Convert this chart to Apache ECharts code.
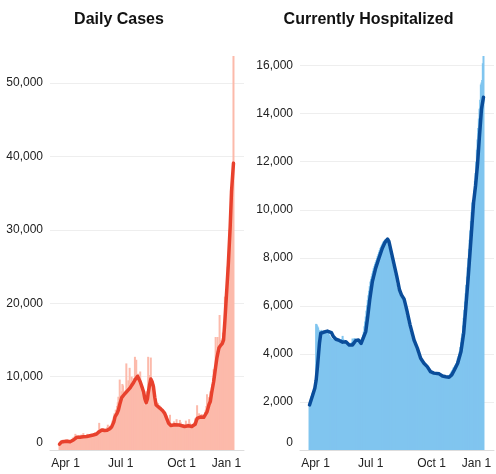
<!DOCTYPE html>
<html><head><meta charset="utf-8">
<script src="https://cdn.jsdelivr.net/npm/echarts@6/dist/echarts.min.js"></script>
<style>html,body{margin:0;padding:0;background:#fff}#c{width:496px;height:474px}</style>
</head><body><div id="c"></div>
<script>
// first data day: 2020-03-29, one value per day
const startDate = '2020-03-29';

const caseDaily = [
 800, 900, 1100, 1200, 1300, 1400, 1200, 1300, 1100, 1400,
 1200, 1000, 1500, 1300, 1100, 1400, 1200, 900, 1300, 1500,
 1700, 1400, 1300, 1900, 2200, 1600, 1800, 1500, 1400, 2000,
 1800, 1700, 1900, 2100, 1600, 1500, 2300, 1800, 1700, 2000,
 1900, 1600, 2200, 1800, 1900, 2100, 1700, 1800, 2200, 2000,
 1900, 2300, 2100, 1800, 2400, 2200, 2000, 2500, 2300, 2700,
 3700, 2600, 2400, 2900, 2800, 2500, 3000, 2700, 2600, 2900,
 2800, 2500, 3100, 3450, 2900, 2700, 3300, 3200, 3000, 3500,
 4000, 3800, 4500, 5000, 4800, 5500, 5200, 6000, 6500, 7260,
 6800, 9600, 6000, 7500, 8000, 9000, 8800, 7200, 7000, 7800,
 8200, 11800, 7600, 8000, 9500, 8500, 11200, 9200, 8400, 10000,
 9000, 8600, 9800, 9200, 12700, 10500, 12300, 9000, 9600, 10400,
 9200, 8800, 10700, 8400, 7800, 7000, 7600, 6800, 5450, 6200,
 6000, 7200, 8000, 7600, 12700, 9000, 10200, 9400, 12600, 9000,
 8800, 8200, 9000, 7000, 6800, 6400, 6000, 6500, 6200, 6400,
 5800, 6100, 5600, 5900, 5400, 5200, 5600, 5000, 4900, 5200,
 4600, 4300, 4700, 4200, 3800, 3600, 4000, 4800, 3400, 3200,
 3100, 3500, 3300, 3900, 3700, 3200, 3000, 4200, 3600, 3400,
 3300, 3100, 4100, 3800, 3200, 3000, 3400, 3500, 3100, 2900,
 3200, 4000, 3000, 2800, 3600, 3300, 4200, 3700, 3400, 3100,
 3000, 2900, 3100, 3400, 3800, 4300, 4100, 4200, 6100, 4400,
 4300, 5000, 4600, 4800, 4500, 4900, 4200, 4100, 4700, 4600,
 5200, 5500, 6000, 7600, 6400, 6800, 7200, 7000, 8000, 7400,
 8500, 9000, 9800, 11000, 10500, 11200, 15400, 12300, 13500, 15400,
 13500, 14000, 18400, 15000, 14000, 14600, 15200, 16000, 15500, 16200,
 20900, 19500, 20800, 21000, 25000, 24200, 25000, 30000, 30500, 30200,
 35500, 35800, 35400, 53700
];

// 7-day average, read at these day offsets from startDate
const caseAvgDay = [0,3,6,10,16,21,26,31,36,41,46,51,56,60,64,68,72,76,79,82,84,87,89,91,94,96,99,102,104,107,109,112,114,116,118,120,122,125,127,129,131,133,134,136,138,140,142,144,146,149,152,156,159,162,165,168,170,174,177,181,185,189,192,195,197,200,202,205,208,210,213,216,218,220,223,226,228,230,233,236,238,241,243,246,248,250,252,255,258,260,263];
const caseAvg = [800,1100,1270,1200,1130,1360,1730,1750,1820,1850,1950,2050,2180,2500,2720,2650,2700,2900,3180,3800,4540,5000,5450,6200,7150,7400,7700,8000,8200,8500,8800,9200,9540,9800,10050,9800,9300,8500,7950,7000,6450,7000,7720,8800,9680,9300,8630,7200,6130,5900,5680,5350,5000,4300,3640,3350,3310,3450,3540,3400,3310,3200,3090,3300,3500,3200,3050,3500,4300,4450,4500,4400,4450,4700,5200,6200,6600,7800,9300,11300,12600,13900,14200,14500,15000,17600,20600,25000,30400,35200,39100];

const hospDaily = [
 1800, 2050, 2150, 2250, 2350, 2400, 2450, 2500, 2550, 2650,
 5250, 5220, 5150, 5100, 5000, 4950, 4900, 4950, 5000, 4950,
 4900, 4880, 4920, 4960, 4900, 4950, 4980, 4920, 4880, 4820,
 4780, 4720, 4680, 4650, 4620, 4600, 4580, 4610, 4560, 4530,
 4560, 4510, 4580, 4530, 4490, 4510, 4460, 4520, 4560, 4620,
 4750, 4620, 4520, 4460, 4420, 4430, 4390, 4360, 4400, 4380,
 4350, 4370, 4400, 4440, 4500, 4640, 4620, 4600, 4660, 4620,
 4590, 4570, 4540, 4500, 4450, 4430, 4470, 4520, 4560, 4620,
 4700, 4800, 4930, 5150, 5350, 5560, 5800, 6020, 6250, 6440,
 6630, 6820, 7010, 7120, 7230, 7350, 7460, 7570, 7650, 7740,
 7820, 7900, 7990, 8070, 8150, 8240, 8320, 8400, 8460, 8520,
 8580, 8640, 8680, 8710, 8750, 8780, 8730, 8680, 8560, 8440,
 8310, 8190, 8070, 7950, 7830, 7710, 7590, 7470, 7340, 7220,
 7060, 6900, 6750, 6670, 6600, 6530, 6460, 6410, 6370, 6320,
 6280, 6170, 6050, 5940, 5830, 5710, 5580, 5460, 5330, 5210,
 5100, 5000, 4890, 4790, 4680, 4580, 4510, 4440, 4380, 4310,
 4240, 4160, 4070, 3990, 3900, 3820, 3780, 3740, 3690, 3650,
 3610, 3580, 3550, 3530, 3500, 3470, 3430, 3390, 3340, 3300,
 3260, 3250, 3240, 3230, 3210, 3200, 3190, 3200, 3180, 3170,
 3170, 3160, 3170, 3150, 3120, 3100, 3090, 3080, 3070, 3060,
 3050, 3050, 3040, 3040, 3030, 3030, 3020, 3030, 3060, 3090,
 3080, 3100, 3125, 3180, 3230, 3280, 3330, 3390, 3440, 3470,
 3520, 3560, 3610, 3710, 3810, 3900, 4000, 4100, 4290, 4480,
 4670, 4860, 5180, 5500, 5830, 6180, 6520, 6870, 7220, 7600,
 7980, 8370, 8750, 9140, 9530, 9920, 10300, 10400, 10400, 10800,
 11200, 11530, 12000, 12500, 12920, 13400, 13800, 14200, 14580, 15210,
 15300, 15400, 16100, 16400
];

const hospAvgDay = [0,4,8,10,12,15,17,21,24,27,30,33,36,40,45,50,55,60,65,70,74,78,81,85,88,91,95,100,105,110,114,118,120,124,128,132,136,139,143,147,152,158,163,168,173,178,183,188,196,201,206,211,215,219,224,229,233,236,240,244,248,251,254,257,260,263];
const hospAvg = [1875,2220,2570,2900,3470,4440,4860,4900,4890,4950,4930,4890,4720,4610,4560,4490,4510,4375,4375,4560,4580,4440,4510,4930,5560,6250,7010,7570,7990,8400,8640,8780,8680,8190,7710,7220,6670,6460,6280,5830,5210,4580,4240,3820,3610,3470,3260,3200,3170,3080,3050,3030,3125,3330,3610,4100,4860,5830,7220,8750,10300,11000,11900,13100,14200,14680];

const tickDates = ['2020-04-01','2020-07-01','2020-10-01','2021-01-01'];
const tickLabels = ['Apr 1','Jul 1','Oct 1','Jan 1'];
const titles = ['Daily Cases','Currently Hospitalized'];

const DAY = 86400000;
const t0 = new Date(startDate + 'T00:00:00Z').getTime();
const tickTs = tickDates.map(d => new Date(d + 'T00:00:00Z').getTime());
const daily = arr => arr.map((v, i) => [t0 + i * DAY, v]);
const sparse = (days, vals) => days.map((d, i) => [t0 + d * DAY, vals[i]]);
const FONT = '"Liberation Sans", Arial, sans-serif';

function xAxis(gi) {
  return {
    type: 'value', gridIndex: gi, scale: true,
    min: t0 - 14.4 * DAY, max: t0 + 278.9 * DAY,
    axisLine: { show: true, lineStyle: { color: '#dddddd', width: 1 } },
    axisTick: { show: false },
    splitLine: { show: false },
    axisLabel: {
      customValues: tickTs, color: '#222', fontSize: 12, margin: 8, hideOverlap: false,
      fontFamily: FONT,
      formatter: v => {
        let k = 0, best = Infinity;
        tickTs.forEach((t, i) => { const d = Math.abs(t - v); if (d < best) { best = d; k = i; } });
        return '{s' + k + '|' + tickLabels[k] + '}';
      },
      rich: {
        s0: { padding: [0, 0, 0, 8] },
        s1: { padding: [0, 2, 0, 0] },
        s2: { padding: [0, 2, 0, 0] },
        s3: { padding: [0, 34, 0, 0] }
      }
    }
  };
}
function yAxis(gi, max, interval) {
  return {
    type: 'value', gridIndex: gi, min: 0, max: max, interval: interval,
    axisLine: { show: false }, axisTick: { show: false },
    splitLine: { show: true, showMaxLine: false, lineStyle: { color: '#eeeeee', width: 1 } },
    axisLabel: {
      showMaxLabel: false, margin: 7, color: '#222', fontSize: 12, fontFamily: FONT,
      formatter: v => v === 0 ? '{z|0}' : v.toLocaleString('en-US'),
      rich: { z: { padding: [0, 0, 15, 0] } }
    }
  };
}

const chart = echarts.init(document.getElementById('c'), null, { renderer: 'canvas' });
chart.setOption({
  animation: false,
  backgroundColor: '#ffffff',
  textStyle: { fontFamily: FONT },
  title: [
    { text: titles[0], left: 119, top: 12, textAlign: 'center', padding: 0,
      textStyle: { fontSize: 16, fontWeight: 'bold', color: '#111', fontFamily: FONT } },
    { text: titles[1], left: 368.5, top: 12, textAlign: 'center', padding: 0,
      textStyle: { fontSize: 16, fontWeight: 'bold', color: '#111', fontFamily: FONT } }
  ],
  grid: [
    { left: 50, top: 56, width: 194, height: 394, outerBoundsMode: 'none', containLabel: false },
    { left: 300, top: 56, width: 194, height: 394, outerBoundsMode: 'none', containLabel: false }
  ],
  xAxis: [xAxis(0), xAxis(1)],
  yAxis: [yAxis(0, Math.max(...caseDaily), 10000), yAxis(1, Math.max(...hospDaily), 2000)],
  series: [
    { type: 'bar', xAxisIndex: 0, yAxisIndex: 0, data: daily(caseDaily), barWidth: 2,
      itemStyle: { color: '#fcbaab' }, z: 2 },
    { type: 'line', xAxisIndex: 0, yAxisIndex: 0, data: sparse(caseAvgDay, caseAvg),
      symbol: 'none', lineStyle: { width: 3.5, color: '#e8412d', cap: 'round', join: 'round' }, z: 3 },
    { type: 'bar', xAxisIndex: 1, yAxisIndex: 1, data: daily(hospDaily), barWidth: 2,
      itemStyle: { color: '#80c5ef' }, z: 2 },
    { type: 'line', xAxisIndex: 1, yAxisIndex: 1, data: sparse(hospAvgDay, hospAvg),
      symbol: 'none', lineStyle: { width: 3.5, color: '#0a4d9a', cap: 'round', join: 'round' }, z: 3 }
  ]
});
</script>
</body></html>
